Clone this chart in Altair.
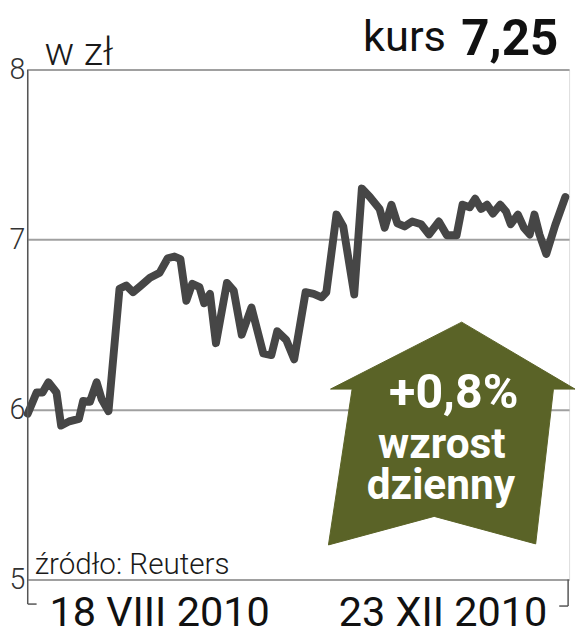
import altair as alt
import pandas as pd

# --- data ---
dzien = [0, 2.1, 3.5, 4.9, 6.8, 7.9, 9.8, 12.1, 13.1, 14.7, 16.3, 17.5, 19.1, 21.7, 23.3, 24.9,
         26.8, 28.9, 31.2, 33.1, 34.7, 36.1, 37.5, 38.9, 40.6, 41.7, 43.1, 44.5, 47.1, 48.7, 50.6,
         52.9, 55.7, 57.6, 59.0, 61.1, 63.0, 65.7, 67.6, 69.5, 70.6, 73.0, 74.6, 77.2, 79.0, 80.9,
         83.2, 84.4, 86.0, 87.4, 89.1, 90.9, 93.0, 94.9, 97.2, 99.1, 101.4, 102.8, 104.5, 105.8,
         107.2, 108.6, 110.0, 111.7, 113.1, 114.2, 115.9, 117.3, 118.7, 119.8, 121.0, 122.6, 124.7,
         127.1]
kurs = [5.975, 6.10, 6.10, 6.16, 6.10, 5.905, 5.93, 5.945, 6.05, 6.045, 6.16, 6.06, 5.99, 6.71,
        6.73, 6.69, 6.73, 6.775, 6.805, 6.89, 6.90, 6.885, 6.64, 6.74, 6.72, 6.625, 6.68, 6.39,
        6.745, 6.70, 6.44, 6.60, 6.33, 6.32, 6.46, 6.41, 6.295, 6.69, 6.68, 6.66, 6.69, 7.147,
        7.077, 6.677, 7.30, 7.25, 7.18, 7.07, 7.205, 7.095, 7.077, 7.106, 7.09, 7.03, 7.106, 7.025,
        7.025, 7.205, 7.19, 7.24, 7.18, 7.205, 7.153, 7.205, 7.165, 7.09, 7.147, 7.07, 7.03, 7.147,
        7.03, 6.915, 7.083, 7.25]
y_ticks = [5, 6, 7, 8]
date_labels = ["18 VIII 2010", "23 XII 2010"]

# arrow annotation outline (in day / zł units)
arrow_x = [102.6, 129.4, 124.3, 120.1, 96.1, 71.1, 76.7, 71.6, 102.6]
arrow_y = [6.514, 6.120, 6.120, 5.209, 5.371, 5.203, 6.120, 6.120, 6.514]

W, H = 549, 517
FONT = "Roboto"

df = pd.DataFrame({"dzien": dzien, "kurs": kurs})
arrow_df = pd.DataFrame({"x": arrow_x, "y": arrow_y, "i": list(range(len(arrow_x)))})

xs = alt.Scale(domain=[0, 128], nice=False, zero=False)
ys = alt.Scale(domain=[5, 8], nice=False, zero=False)

base = alt.Chart(df)

line = base.mark_line(color="#464646", strokeWidth=8, strokeJoin="round", strokeCap="round").encode(
    x=alt.X("dzien:Q", scale=xs, axis=None),
    y=alt.Y("kurs:Q", scale=ys, axis=alt.Axis(
        values=y_ticks, format="d", title=None, grid=True, gridColor="#a0a0a0", gridWidth=2,
        domain=False, ticks=False, labelFont=FONT, labelFontSize=29, labelFontWeight=300,
        labelColor="#333333", labelPadding=3)),
)

one = pd.DataFrame({"a": [0]})
rules = alt.Chart(one)
left_v = rules.mark_rule(color="#555555", strokeWidth=1.5).encode(
    x=alt.value(0), y=alt.value(0), y2=alt.value(542))
left_h = rules.mark_rule(color="#555555", strokeWidth=1.5).encode(
    x=alt.value(0), x2=alt.value(9), y=alt.value(542))
right_v = rules.mark_rule(color="#555555", strokeWidth=1.5).encode(
    x=alt.value(W - 1), y=alt.value(H), y2=alt.value(544))
right_h = rules.mark_rule(color="#555555", strokeWidth=1.5).encode(
    x=alt.value(W - 10), x2=alt.value(W - 1), y=alt.value(544))

arrow = alt.Chart(arrow_df).mark_line(fill="#5a6327", stroke="#5a6327", strokeWidth=1).encode(
    x=alt.X("x:Q", scale=xs), y=alt.Y("y:Q", scale=ys), order="i:Q")


def txt(text, x, y, size, weight=400, align="left", color="#1a1a1a"):
    return alt.Chart(one).mark_text(
        text=text, font=FONT, fontSize=size, fontWeight=weight, align=align,
        baseline="alphabetic", color=color).encode(x=alt.value(x), y=alt.value(y))


texts = [
    txt("w zł", 17, -5, 40, 300),
    txt("kurs", 340, -19, 44, 400, color="#111111"),
    txt("7,25", 538, -15, 50, 700, align="right", color="#111111"),
    txt("źródło: Reuters", 7, 511, 30, 300),
    txt(date_labels[0], 22, 564, 42, 400, color="#111111"),
    txt(date_labels[1], 527, 564, 42, 400, align="right", color="#111111"),
    txt("+0,8%", 432, 343, 49, 700, align="center", color="white"),
    txt("wzrost", 420, 394, 43, 700, align="center", color="white"),
    txt("dzienny", 419, 435, 43, 700, align="center", color="white"),
]

chart = alt.layer(line, left_v, left_h, right_v, right_h, arrow, *texts).properties(
    width=W, height=H,
    padding={"left": 20, "top": 58, "right": 7, "bottom": 60},
    autosize=alt.AutoSizeParams(type="none"),
).configure_view(stroke=None).configure(background="white")

chart.save("out.html", embed_options={"renderer": "svg", "actions": False})
